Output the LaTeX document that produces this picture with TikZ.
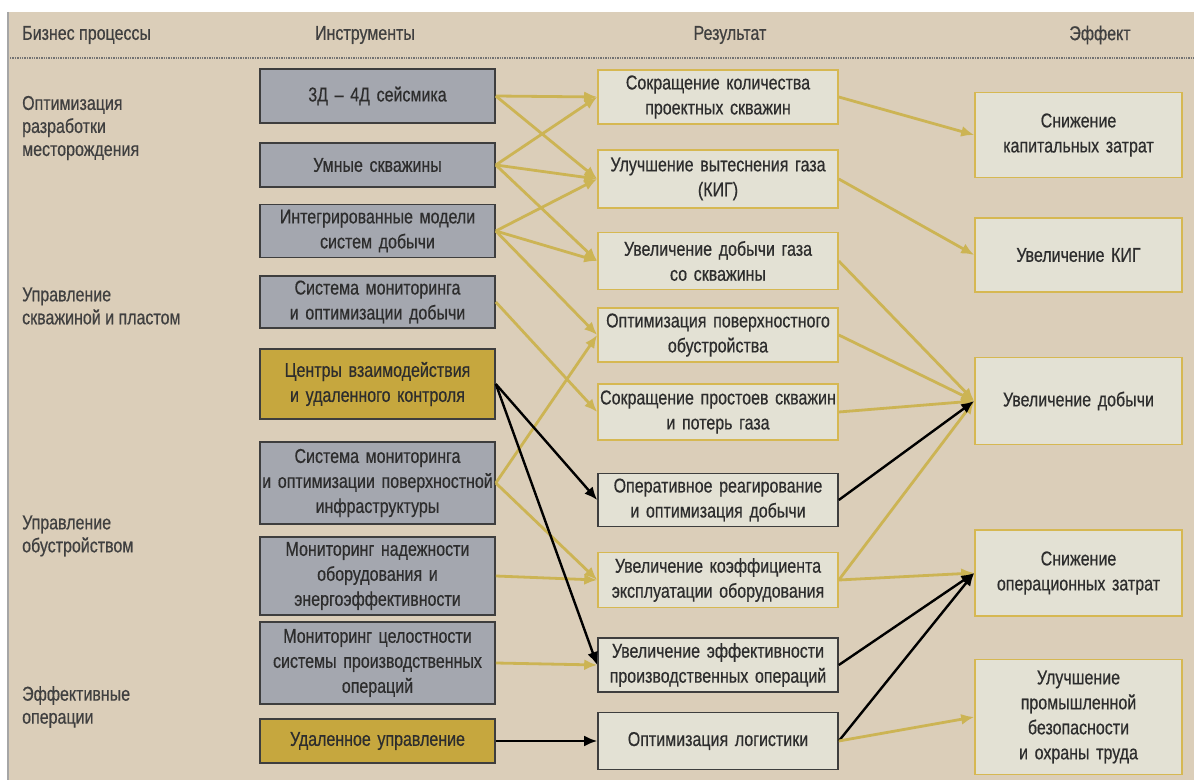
\documentclass[tikz,border=0pt]{standalone}
\usepackage{fontspec}
\setmainfont{Liberation Sans}[FakeStretch=0.8, FakeBold=0.5]
\usetikzlibrary{arrows.meta}
\definecolor{bgbeige}{RGB}{219,206,185}
\definecolor{toolgray}{RGB}{164,167,175}
\definecolor{toolline}{RGB}{62,62,62}
\definecolor{hubgold}{RGB}{198,167,62}
\definecolor{reslight}{RGB}{227,225,212}
\definecolor{resline}{RGB}{214,184,82}
\definecolor{arrgold}{RGB}{204,180,84}
\definecolor{inktext}{RGB}{45,45,45}

\begin{document}
\begin{tikzpicture}[x=1pt,y=-1pt]
			\tikzstyle{every node}+=[inner sep=0pt, text=inktext, font=\fontsize{20}{25}\selectfont]
			\tikzstyle{head}=[text=black!75]
			\tikzstyle{proc}=[anchor=west, align=left, text=black!75, font=\fontsize{20}{23}\selectfont]
			\tikzstyle{tool}=[draw=toolline, fill=toolgray, line width=1.6, text width=235, align=center]
			\tikzstyle{hub}=[tool, fill=hubgold]
			\tikzstyle{res}=[draw=resline, fill=reslight, line width=1.6, text width=240, align=center]
			\tikzstyle{resk}=[res, draw=toolline]
			\tikzstyle{eff}=[res, text width=207]
			\tikzstyle{goldarr}=[draw=arrgold, line width=2.8, -{Latex[length=13,width=11]}]
			\tikzstyle{blackarr}=[draw=black, line width=2.4, -{Latex[length=13,width=11]}]
			\useasboundingbox (0,0) rectangle (1194,783);
			\fill[white] (0,0) rectangle (1194,783);
			\fill[bgbeige] (8,12) rectangle (1194,780);
			\draw[black!35, line width=1.2] (8,12) -- (8,780);
			\node[head, anchor=west] (hproc) at (22,35) {Бизнес процессы};
			\node[head] (htool) at (365,35) {Инструменты};
			\node[head] (hres) at (730,35) {Результат};
			\node[head] (heff) at (1100,35) {Эффект};
			\draw[black!55, line width=1.4, densely dotted] (10,58) -- (1194,58);
			\node[proc] (p1) at (22,128) {Оптимизация\\разработки\\месторождения};
			\node[proc] (p2) at (22,306) {Управление\\скважиной и пластом};
			\node[proc] (p3) at (22,536) {Управление\\обустройством};
			\node[proc] (p4) at (22,707) {Эффективные\\операции};
			\node[tool, minimum height=54] (t1) at (377.5,96) {3Д -- 4Д сейсмика};
			\node[tool, minimum height=44] (t2) at (377.5,165) {Умные скважины};
			\node[tool, minimum height=53] (t3) at (377.5,231) {Интегрированные модели\\систем добычи};
			\node[tool, minimum height=52] (t4) at (377.5,302) {Система мониторинга\\и оптимизации добычи};
			\node[hub, minimum height=70] (t5) at (377.5,384) {Центры взаимодействия\\и удаленного контроля};
			\node[tool, minimum height=82] (t6) at (377.5,483) {Система мониторинга\\и оптимизации поверхностной\\инфраструктуры};
			\node[tool, minimum height=78] (t7) at (377.5,576) {Мониторинг надежности\\оборудования и\\энергоэффективности};
			\node[tool, minimum height=82] (t8) at (377.5,663) {Мониторинг целостности\\системы производственных\\операций};
			\node[hub, minimum height=44] (t9) at (377.5,741) {Удаленное управление};
			\node[res, minimum height=54] (r1) at (718,97) {Сокращение количества\\проектных скважин};
			\node[res, minimum height=58] (r2) at (718,179) {Улучшение вытеснения газа\\(КИГ)};
			\node[res, minimum height=57] (r3) at (718,261) {Увеличение добычи газа\\со скважины};
			\node[res, minimum height=54] (r4) at (718,335) {Оптимизация поверхностного\\обустройства};
			\node[res, minimum height=56] (r5) at (718,412) {Сокращение простоев скважин\\и потерь газа};
			\node[resk, minimum height=53] (r6) at (718,500) {Оперативное реагирование\\и оптимизация добычи};
			\node[res, minimum height=55] (r7) at (718,580) {Увеличение коэффициента\\эксплуатации оборудования};
			\node[resk, minimum height=54] (r8) at (718,665) {Увеличение эффективности\\производственных операций};
			\node[resk, minimum height=57] (r9) at (718,741) {Оптимизация логистики};
			\node[eff, minimum height=85] (e1) at (1078.5,135) {Снижение\\капитальных затрат};
			\node[eff, minimum height=74] (e2) at (1078.5,255) {Увеличение КИГ};
			\node[eff, minimum height=87] (e3) at (1078.5,401) {Увеличение добычи};
			\node[eff, minimum height=86] (e4) at (1078.5,573) {Снижение\\операционных затрат};
			\node[eff, minimum height=115] (e5) at (1078.5,717) {Улучшение\\промышленной\\безопасности\\и охраны труда};
			\draw[goldarr] (t1.east) -- (r1.west);
			\draw[goldarr] (t1.east) -- (r2.west);
			\draw[goldarr] (t2.east) -- (r1.west);
			\draw[goldarr] (t2.east) -- (r2.west);
			\draw[goldarr] (t2.east) -- (r3.west);
			\draw[goldarr] (t3.east) -- (r2.west);
			\draw[goldarr] (t3.east) -- (r3.west);
			\draw[goldarr] (t3.east) -- (r4.west);
			\draw[goldarr] (t4.east) -- (r5.west);
			\draw[goldarr] (t6.east) -- (r4.west);
			\draw[goldarr] (t6.east) -- (r7.west);
			\draw[goldarr] (t7.east) -- (r7.west);
			\draw[goldarr] (t8.east) -- (r8.west);
			\draw[blackarr] (t5.east) -- (r6.west);
			\draw[blackarr] (t5.east) -- (r8.west);
			\draw[blackarr] (t9.east) -- (r9.west);
			\draw[goldarr] (r1.east) -- (e1.west);
			\draw[goldarr] (r2.east) -- (e2.west);
			\draw[goldarr] (r3.east) -- (e3.west);
			\draw[goldarr] (r4.east) -- (e3.west);
			\draw[goldarr] (r5.east) -- (e3.west);
			\draw[goldarr] (r7.east) -- (e3.west);
			\draw[blackarr] (r6.east) -- (e3.west);
			\draw[goldarr] (r7.east) -- (e4.west);
			\draw[blackarr] (r8.east) -- (e4.west);
			\draw[blackarr] (r9.east) -- (e4.west);
			\draw[goldarr] (r9.east) -- (e5.west);
		\end{tikzpicture}
\end{document}
